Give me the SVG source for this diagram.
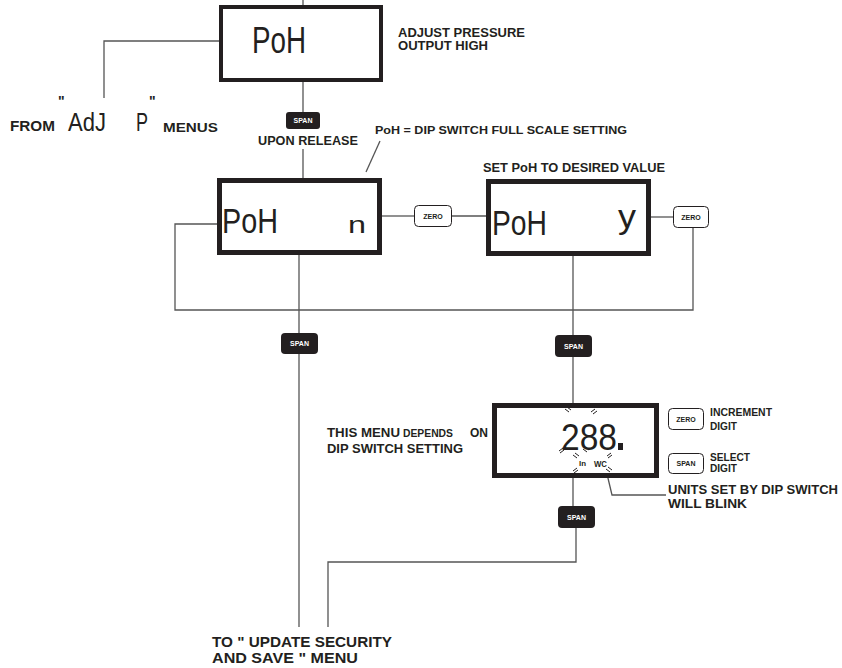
<svg xmlns="http://www.w3.org/2000/svg" width="842" height="668" viewBox="0 0 842 668">
<style>
.box{fill:#fff;stroke:#231f20}
.ln{fill:none;stroke:#555;stroke-width:1.3}
.lbl{font-family:"Liberation Sans",Arial,sans-serif;font-weight:bold;fill:#231f20}
.seg{font-family:"Liberation Sans",Arial,sans-serif;fill:#231f20}
.sbtn{fill:#231f20}
.sbtxt{font-family:"Liberation Sans",Arial,sans-serif;font-weight:bold;font-size:7px;fill:#fff}
.zbtn{fill:#fff;stroke:#231f20;stroke-width:1}
.zbtxt{font-family:"Liberation Sans",Arial,sans-serif;font-weight:bold;font-size:7px;fill:#231f20}
.blk{stroke:#231f20;stroke-width:1;fill:none}
</style>
<g id="connectors">
<path class="ln" d="M303,0 V5"/>
<path class="ln" d="M221,41 H104 V98"/>
<path class="ln" d="M303,82 V112"/>
<path class="ln" d="M303,149 V178"/>
<path class="ln" d="M380,141 L366,172"/>
<path class="ln" d="M217,224 H175 V310 H693 V228"/>
<path class="ln" d="M382,216 H414"/>
<path class="ln" d="M451,216 H486"/>
<path class="ln" d="M651,217 H673"/>
<path class="ln" d="M299,255 V333"/>
<path class="ln" d="M299,354 V627"/>
<path class="ln" d="M573,256 V335"/>
<path class="ln" d="M573,357 V403"/>
<path class="ln" d="M573,478 V506"/>
<path class="ln" d="M576,528 V562 H328 V627"/>
<path class="ln" d="M607,474 L612,495 H666"/>
</g>
<g id="node-top">
<rect class="box" x="221" y="7" width="160" height="73" stroke-width="4"/>
<text class="seg" x="252" y="53" font-size="36" textLength="54" lengthAdjust="spacingAndGlyphs">PoH</text>
</g>
<g id="label-adjust">
<text class="lbl" x="398" y="37" font-size="12" textLength="127" lengthAdjust="spacingAndGlyphs">ADJUST PRESSURE</text>
<text class="lbl" x="398" y="50" font-size="12" textLength="90" lengthAdjust="spacingAndGlyphs">OUTPUT HIGH</text>
</g>
<g id="label-from">
<text class="lbl" x="10" y="131" font-size="15" textLength="45" lengthAdjust="spacingAndGlyphs">FROM</text>
<text class="lbl" x="58" y="106" font-size="14">"</text>
<text class="seg" x="68" y="131" font-size="26" textLength="38" lengthAdjust="spacingAndGlyphs">AdJ</text>
<text class="seg" x="136" y="131" font-size="26" textLength="12" lengthAdjust="spacingAndGlyphs">P</text>
<text class="lbl" x="149" y="106" font-size="14">"</text>
<text class="lbl" x="163" y="132" font-size="12.5" textLength="55" lengthAdjust="spacingAndGlyphs">MENUS</text>
</g>
<g id="btn-span-1">
<rect class="sbtn" x="286" y="112" width="34" height="17" rx="3"/>
<text class="sbtxt" x="303" y="123" text-anchor="middle">SPAN</text>
</g>
<text class="lbl" x="258" y="145" font-size="13" textLength="100" lengthAdjust="spacingAndGlyphs">UPON RELEASE</text>
<text class="lbl" x="375" y="134" font-size="11" textLength="252" lengthAdjust="spacingAndGlyphs">PoH = DIP SWITCH FULL SCALE SETTING</text>
<g id="node-poh-n">
<rect class="box" x="219.5" y="180.5" width="160" height="72" stroke-width="5"/>
<text class="seg" x="222" y="233" font-size="35" textLength="56" lengthAdjust="spacingAndGlyphs">PoH</text>
<text class="seg" x="348" y="233" font-size="24" textLength="18" lengthAdjust="spacingAndGlyphs">n</text>
</g>
<g id="btn-zero-1">
<rect class="zbtn" x="414.5" y="205.5" width="37" height="21" rx="4"/>
<text class="zbtxt" x="433" y="218.5" text-anchor="middle">ZERO</text>
</g>
<text class="lbl" x="483" y="172" font-size="12.5" textLength="182" lengthAdjust="spacingAndGlyphs">SET PoH TO DESIRED VALUE</text>
<g id="node-poh-y">
<rect class="box" x="488.5" y="181.5" width="160" height="72" stroke-width="5"/>
<text class="seg" x="492" y="235" font-size="35" textLength="55" lengthAdjust="spacingAndGlyphs">PoH</text>
<text class="seg" x="618" y="228" font-size="34" textLength="18" lengthAdjust="spacingAndGlyphs">y</text>
</g>
<g id="btn-zero-2">
<rect class="zbtn" x="673.5" y="206.5" width="35" height="21" rx="4"/>
<text class="zbtxt" x="691" y="219.5" text-anchor="middle">ZERO</text>
</g>
<g id="btn-span-2">
<rect class="sbtn" x="281" y="333" width="37" height="21" rx="4"/>
<text class="sbtxt" x="299.5" y="346" text-anchor="middle">SPAN</text>
</g>
<g id="btn-span-3">
<rect class="sbtn" x="555" y="335" width="37" height="22" rx="4"/>
<text class="sbtxt" x="573.5" y="348.5" text-anchor="middle">SPAN</text>
</g>
<g id="label-depends">
<text class="lbl" x="327" y="437" font-size="12.5" textLength="73" lengthAdjust="spacingAndGlyphs">THIS MENU</text>
<text class="lbl" x="403" y="437" font-size="10" textLength="50" lengthAdjust="spacingAndGlyphs">DEPENDS</text>
<text class="lbl" x="470" y="437" font-size="12.5" textLength="18" lengthAdjust="spacingAndGlyphs">ON</text>
<text class="lbl" x="327" y="453" font-size="12.5" textLength="136" lengthAdjust="spacingAndGlyphs">DIP SWITCH SETTING</text>
</g>
<g id="node-288">
<rect class="box" x="494.5" y="405.5" width="162" height="70" stroke-width="5"/>
<text class="seg" x="561" y="450" font-size="37" textLength="56" lengthAdjust="spacingAndGlyphs">288</text>
<rect x="618" y="443" width="5" height="7" fill="#231f20"/>
<text class="lbl" x="579" y="466" font-size="8" textLength="7" lengthAdjust="spacingAndGlyphs">In</text>
<text class="lbl" x="594" y="467" font-size="9" textLength="13" lengthAdjust="spacingAndGlyphs">WC</text>
<path class="blk" d="M565,409 L569,412 M567,407 L571,410"/>
<path class="blk" d="M591,412 L595,409 M593,414 L597,411"/>
<path class="blk" d="M559,451 L563,448 M560,453 L564,450"/>
<path class="blk" d="M583,449 L587,452 M585,447 L589,450"/>
<path class="blk" d="M573,455 L577,458 M575,453 L579,456"/>
<path class="blk" d="M607,456 L611,453 M608,458 L612,455"/>
<path class="blk" d="M573,471 L577,468 M574,473 L578,470"/>
<path class="blk" d="M606,469 L610,472 M608,467 L612,470"/>
</g>
<g id="btn-zero-3">
<rect class="zbtn" x="668.5" y="408.5" width="35" height="21" rx="4"/>
<text class="zbtxt" x="686" y="421.5" text-anchor="middle">ZERO</text>
</g>
<text class="lbl" x="710" y="416" font-size="11" textLength="62" lengthAdjust="spacingAndGlyphs">INCREMENT</text>
<text class="lbl" x="710" y="430" font-size="11" textLength="27" lengthAdjust="spacingAndGlyphs">DIGIT</text>
<g id="btn-span-4">
<rect class="zbtn" x="668.5" y="453.5" width="35" height="20" rx="4"/>
<text class="zbtxt" x="686" y="466" text-anchor="middle">SPAN</text>
</g>
<text class="lbl" x="710" y="461" font-size="11" textLength="40" lengthAdjust="spacingAndGlyphs">SELECT</text>
<text class="lbl" x="710" y="472" font-size="11" textLength="27" lengthAdjust="spacingAndGlyphs">DIGIT</text>
<text class="lbl" x="668" y="494" font-size="13" textLength="170" lengthAdjust="spacingAndGlyphs">UNITS SET BY DIP SWITCH</text>
<text class="lbl" x="668" y="508" font-size="13" textLength="79" lengthAdjust="spacingAndGlyphs">WILL BLINK</text>
<g id="btn-span-5">
<rect class="sbtn" x="558" y="506" width="37" height="22" rx="4"/>
<text class="sbtxt" x="576.5" y="519.5" text-anchor="middle">SPAN</text>
</g>
<g id="label-to">
<text class="lbl" x="212" y="647" font-size="15" textLength="180" lengthAdjust="spacingAndGlyphs">TO  " UPDATE SECURITY</text>
<text class="lbl" x="212" y="663" font-size="15" textLength="146" lengthAdjust="spacingAndGlyphs">AND SAVE " MENU</text>
</g>
</svg>
